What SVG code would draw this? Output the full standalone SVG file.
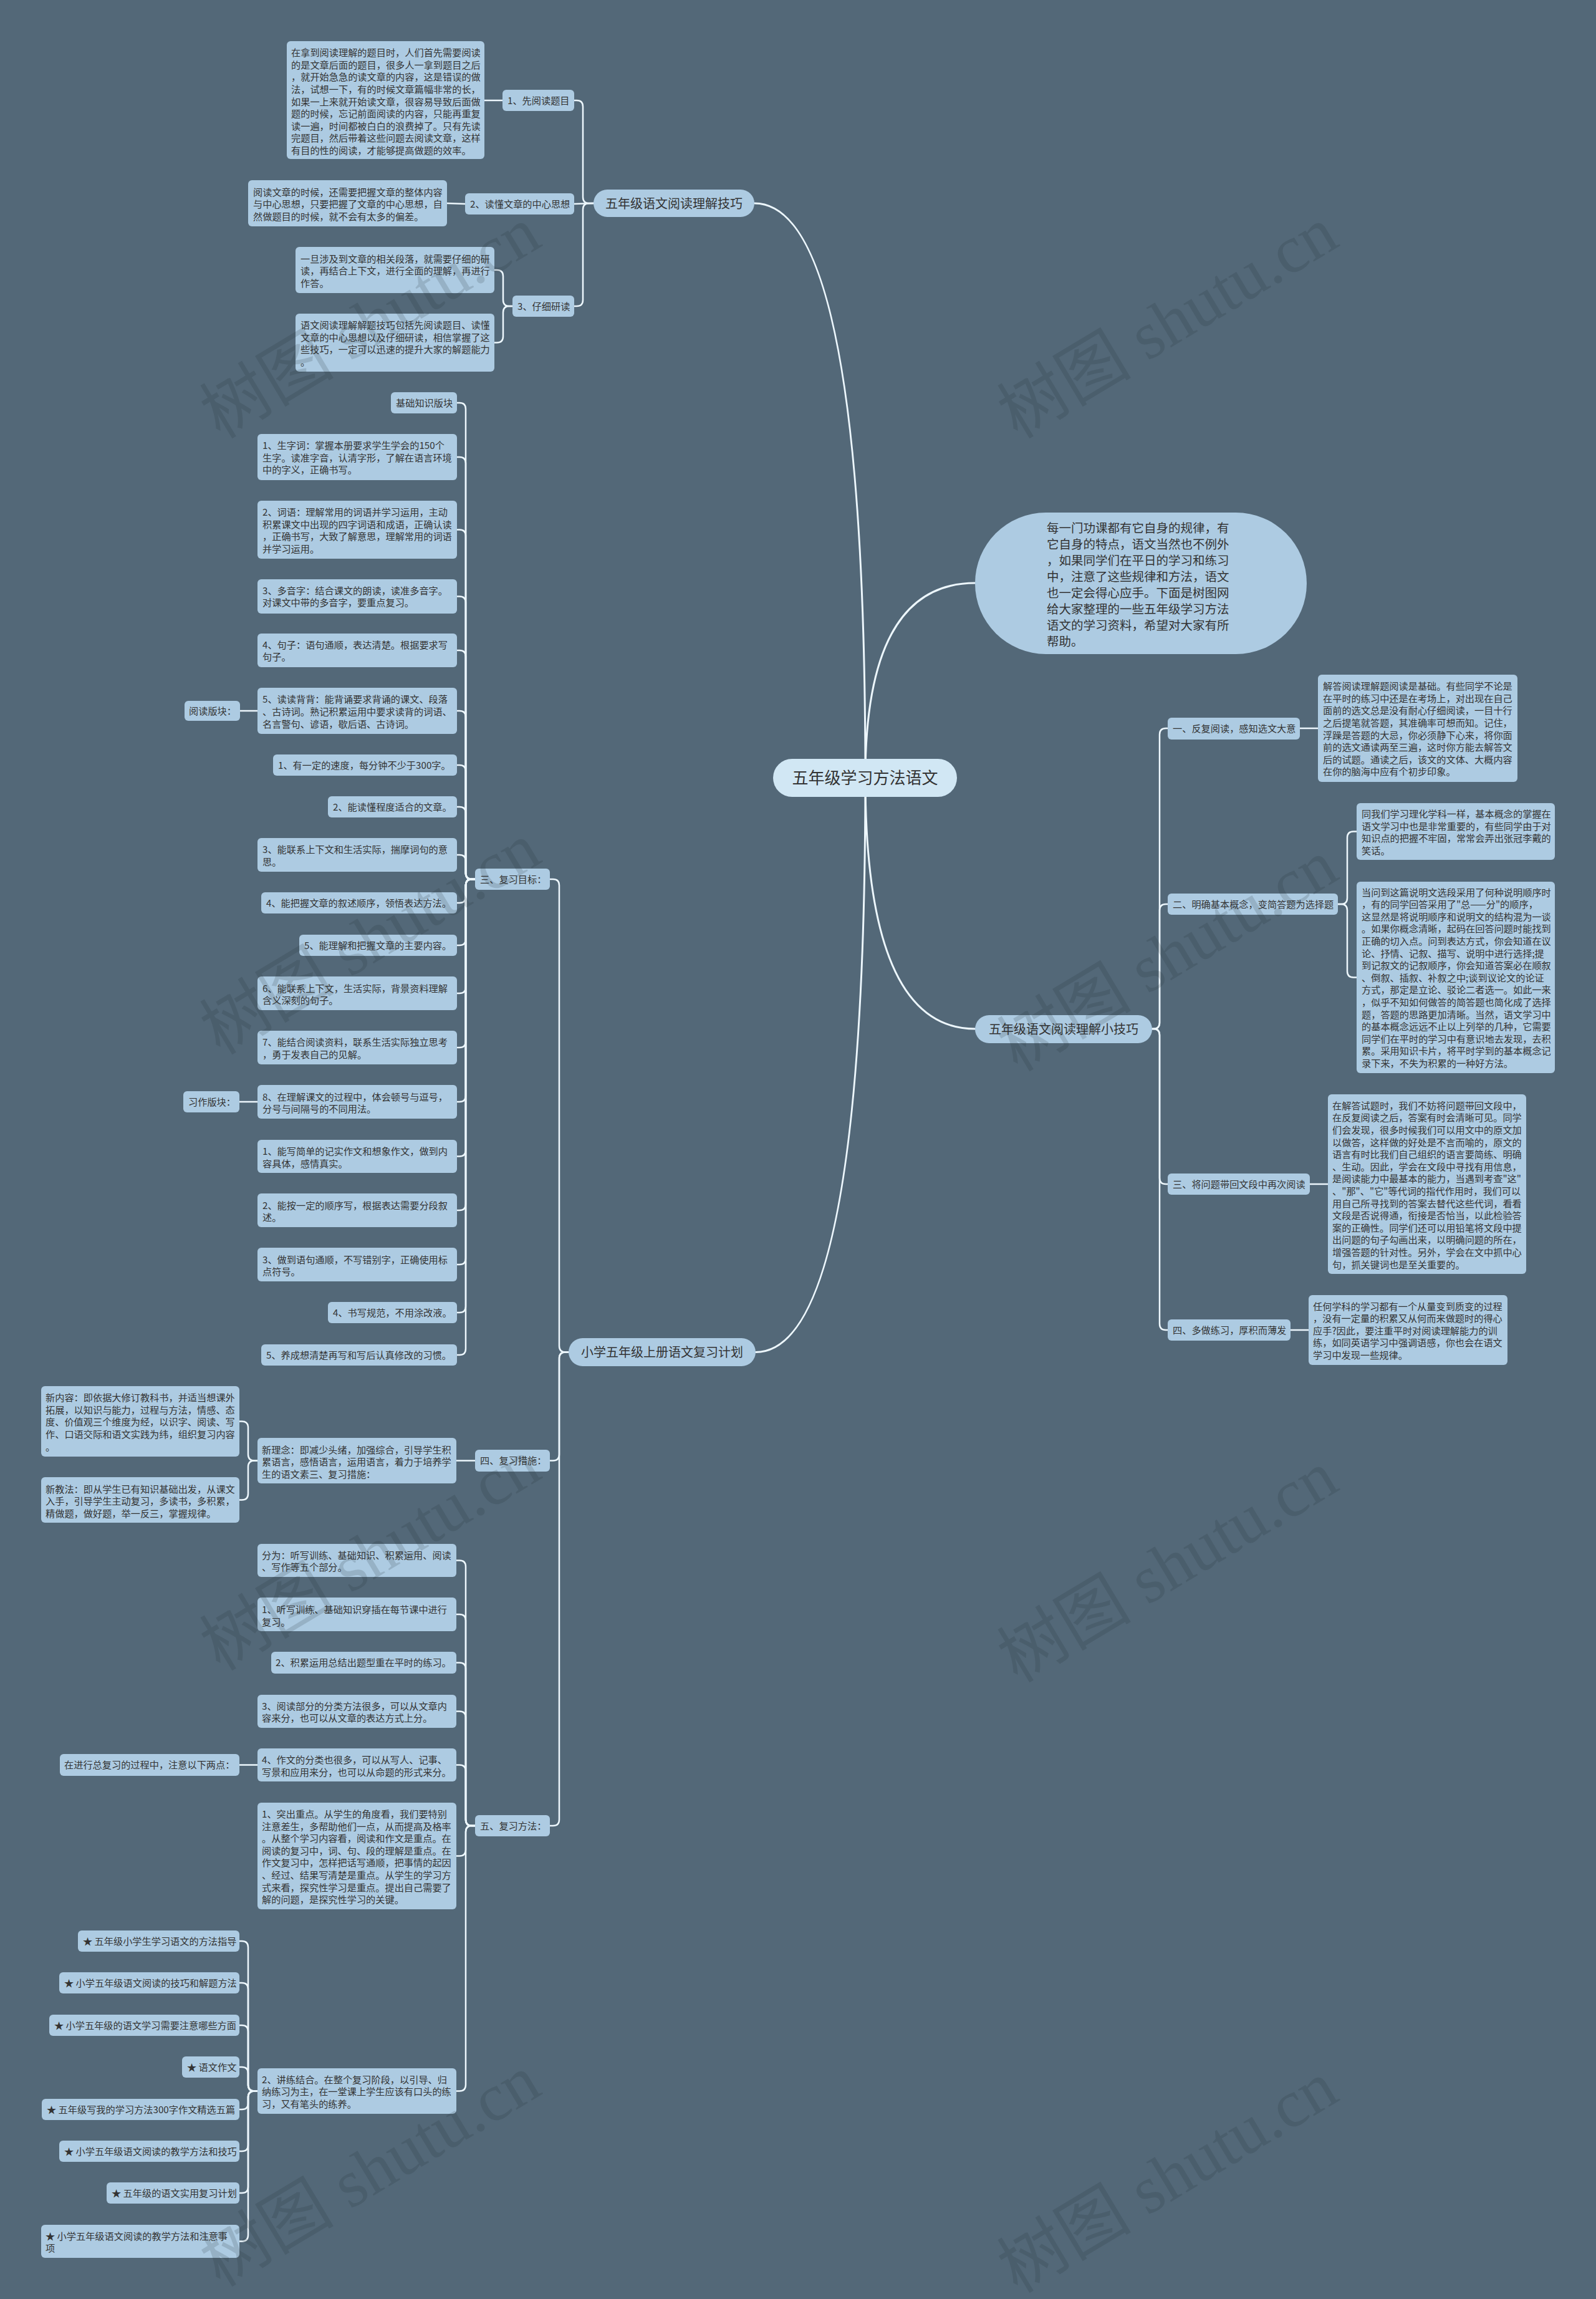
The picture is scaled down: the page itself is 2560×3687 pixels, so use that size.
<svg xmlns="http://www.w3.org/2000/svg" width="2560" height="3687" viewBox="0 0 2560 3687">
<style>
.n{fill:#adcbe2}
.c{fill:#d1e7f4}
.t{font-family:"Noto Sans CJK SC","Noto Sans",sans-serif;font-size:15.2px;fill:#333}
.tb{font-family:"Noto Sans CJK SC","Noto Sans",sans-serif;font-size:20px;fill:#333}
.ti{font-family:"Noto Sans CJK SC","Noto Sans",sans-serif;font-size:19.5px;fill:#333}
.tc{font-family:"Noto Sans CJK SC","Noto Sans",sans-serif;font-size:26px;fill:#333}
.l{fill:none;stroke:#edf7fd;stroke-width:2.5;stroke-linecap:round;stroke-linejoin:round}
.lm{stroke-width:3}
.wm{font-family:"Liberation Serif","Noto Sans CJK SC",serif;font-size:108px;fill:#1e2a33;fill-opacity:0.16}
</style>
<rect x="0" y="0" width="2560" height="3687" fill="#536878"/>
<g id="connectors">
<path class="l lm" d="M1210,326 Q1388,326 1388,1247"/>
<path class="l lm" d="M1388,1247 Q1388,935 1564,935"/>
<path class="l lm" d="M1388,1247 Q1388,1650 1564,1650"/>
<path class="l lm" d="M1212,2168.5 Q1388,2168.5 1388,1247"/>
<path class="l" d="M952,326 L945,326 Q935,326 935,316 L935,171 Q935,161 925,161 L921,161"/>
<path class="l" d="M952,326 L921,327"/>
<path class="l" d="M952,326 L945,326 Q935,326 935,336 L935,481 Q935,491 925,491 L921,491"/>
<path class="l" d="M777,161 L806,161"/>
<path class="l" d="M717,326 L746,327"/>
<path class="l" d="M822,491 L817,491 Q807,491 807,481 L807,443 Q807,433 797,433 L793,433"/>
<path class="l" d="M822,491 L817,491 Q807,491 807,501 L807,539.5 Q807,549.5 797,549.5 L793,549.5"/>
<path class="l" d="M1848,1650 L1850,1650 Q1860,1650 1860,1640 L1860,1178 Q1860,1168 1870,1168 L1873,1168"/>
<path class="l" d="M1848,1650 L1850,1650 Q1860,1650 1860,1640 L1860,1460 Q1860,1450 1870,1450 L1873,1450"/>
<path class="l" d="M1848,1650 L1850,1650 Q1860,1650 1860,1660 L1860,1889 Q1860,1899 1870,1899 L1873,1899"/>
<path class="l" d="M1848,1650 L1850,1650 Q1860,1650 1860,1660 L1860,2123 Q1860,2133 1870,2133 L1873,2133"/>
<path class="l" d="M2085,1168 L2114,1168"/>
<path class="l" d="M2101,1899 L2130,1899"/>
<path class="l" d="M2070,2133 L2099,2133"/>
<path class="l" d="M2146,1450 L2151,1450 Q2161,1450 2161,1440 L2161,1343.5 Q2161,1333.5 2171,1333.5 L2176,1333.5"/>
<path class="l" d="M2146,1450 L2151,1450 Q2161,1450 2161,1460 L2161,1557.5 Q2161,1567.5 2171,1567.5 L2176,1567.5"/>
<path class="l" d="M912,2168.5 L907,2168.5 Q897,2168.5 897,2158.5 L897,1420 Q897,1410 887,1410 L882,1410"/>
<path class="l" d="M912,2168.5 L907,2168.5 Q897,2168.5 897,2178.5 L897,2332.5 Q897,2342.5 887,2342.5 L882,2342.5"/>
<path class="l" d="M912,2168.5 L907,2168.5 Q897,2168.5 897,2178.5 L897,2918 Q897,2928 887,2928 L882,2928"/>
<path class="l" d="M762,1410 L757,1410 Q747,1410 747,1400 L747,656 Q747,646 737,646 L733,646"/>
<path class="l" d="M762,1410 L757,1410 Q747,1410 747,1400 L747,743 Q747,733 737,733 L733,733"/>
<path class="l" d="M762,1410 L757,1410 Q747,1410 747,1400 L747,859.5 Q747,849.5 737,849.5 L733,849.5"/>
<path class="l" d="M762,1410 L757,1410 Q747,1410 747,1400 L747,966.5 Q747,956.5 737,956.5 L733,956.5"/>
<path class="l" d="M762,1410 L757,1410 Q747,1410 747,1400 L747,1053 Q747,1043 737,1043 L733,1043"/>
<path class="l" d="M762,1410 L757,1410 Q747,1410 747,1400 L747,1150 Q747,1140 737,1140 L733,1140"/>
<path class="l" d="M762,1410 L757,1410 Q747,1410 747,1400 L747,1237 Q747,1227 737,1227 L733,1227"/>
<path class="l" d="M762,1410 L757,1410 Q747,1410 747,1400 L747,1304 Q747,1294 737,1294 L733,1294"/>
<path class="l" d="M762,1410 L757,1410 Q747,1410 747,1400 L747,1381 Q747,1371 737,1371 L733,1371"/>
<path class="l" d="M762,1410 L757,1410 Q747,1410 747,1420 L747,1438 Q747,1448 737,1448 L733,1448"/>
<path class="l" d="M762,1410 L757,1410 Q747,1410 747,1420 L747,1506 Q747,1516 737,1516 L733,1516"/>
<path class="l" d="M762,1410 L757,1410 Q747,1410 747,1420 L747,1583 Q747,1593 737,1593 L733,1593"/>
<path class="l" d="M762,1410 L757,1410 Q747,1410 747,1420 L747,1670 Q747,1680 737,1680 L733,1680"/>
<path class="l" d="M762,1410 L757,1410 Q747,1410 747,1420 L747,1757 Q747,1767 737,1767 L733,1767"/>
<path class="l" d="M762,1410 L757,1410 Q747,1410 747,1420 L747,1844.5 Q747,1854.5 737,1854.5 L733,1854.5"/>
<path class="l" d="M762,1410 L757,1410 Q747,1410 747,1420 L747,1931 Q747,1941 737,1941 L733,1941"/>
<path class="l" d="M762,1410 L757,1410 Q747,1410 747,1420 L747,2018 Q747,2028 737,2028 L733,2028"/>
<path class="l" d="M762,1410 L757,1410 Q747,1410 747,1420 L747,2095 Q747,2105 737,2105 L733,2105"/>
<path class="l" d="M762,1410 L757,1410 Q747,1410 747,1420 L747,2163 Q747,2173 737,2173 L733,2173"/>
<path class="l" d="M385,1140 L413,1140"/>
<path class="l" d="M384,1767 L413,1767"/>
<path class="l" d="M762,2342.5 L732,2342.5"/>
<path class="l" d="M413,2342.5 L408,2342.5 Q398,2342.5 398,2332.5 L398,2289.5 Q398,2279.5 388,2279.5 L384,2279.5"/>
<path class="l" d="M413,2342.5 L408,2342.5 Q398,2342.5 398,2352.5 L398,2395.5 Q398,2405.5 388,2405.5 L384,2405.5"/>
<path class="l" d="M762,2928 L757,2928 Q747,2928 747,2918 L747,2512.5 Q747,2502.5 737,2502.5 L732,2502.5"/>
<path class="l" d="M762,2928 L757,2928 Q747,2928 747,2918 L747,2599 Q747,2589 737,2589 L732,2589"/>
<path class="l" d="M762,2928 L757,2928 Q747,2928 747,2918 L747,2676.5 Q747,2666.5 737,2666.5 L732,2666.5"/>
<path class="l" d="M762,2928 L757,2928 Q747,2928 747,2918 L747,2754.5 Q747,2744.5 737,2744.5 L732,2744.5"/>
<path class="l" d="M762,2928 L757,2928 Q747,2928 747,2918 L747,2840.5 Q747,2830.5 737,2830.5 L732,2830.5"/>
<path class="l" d="M762,2928 L757,2928 Q747,2928 747,2938 L747,2966.5 Q747,2976.5 737,2976.5 L732,2976.5"/>
<path class="l" d="M762,2928 L757,2928 Q747,2928 747,2938 L747,3343.5 Q747,3353.5 737,3353.5 L732,3353.5"/>
<path class="l" d="M413,2830.5 L384,2830.5"/>
<path class="l" d="M413,3353.5 L408,3353.5 Q398,3353.5 398,3343.5 L398,3123 Q398,3113 388,3113 L384,3113"/>
<path class="l" d="M413,3353.5 L408,3353.5 Q398,3353.5 398,3343.5 L398,3190 Q398,3180 388,3180 L384,3180"/>
<path class="l" d="M413,3353.5 L408,3353.5 Q398,3353.5 398,3343.5 L398,3258 Q398,3248 388,3248 L384,3248"/>
<path class="l" d="M413,3353.5 L408,3353.5 Q398,3353.5 398,3343.5 L398,3325 Q398,3315 388,3315 L384,3315"/>
<path class="l" d="M413,3353.5 L408,3353.5 Q398,3353.5 398,3363.5 L398,3373 Q398,3383 388,3383 L384,3383"/>
<path class="l" d="M413,3353.5 L408,3353.5 Q398,3353.5 398,3363.5 L398,3440 Q398,3450 388,3450 L384,3450"/>
<path class="l" d="M413,3353.5 L408,3353.5 Q398,3353.5 398,3363.5 L398,3507 Q398,3517 388,3517 L384,3517"/>
<path class="l" d="M413,3353.5 L408,3353.5 Q398,3353.5 398,3363.5 L398,3584.5 Q398,3594.5 388,3594.5 L384,3594.5"/>
</g>

<g id="center"><rect class="c" x="1240" y="1217" width="295" height="61" rx="30.5"/><text class="tc" x="1387.5" y="1257.4" text-anchor="middle">五年级学习方法语文</text></g>

<g id="intro"><rect class="n" x="1564" y="822" width="532" height="227" rx="113.5"/>
<text class="ti"><tspan x="1679" y="854.3">每一门功课都有它自身的规律，有</tspan><tspan x="1679" y="880.3">它自身的特点，语文当然也不例外</tspan><tspan x="1679" y="906.3">，如果同学们在平日的学习和练习</tspan><tspan x="1679" y="932.3">中，注意了这些规律和方法，语文</tspan><tspan x="1679" y="958.3">也一定会得心应手。下面是树图网</tspan><tspan x="1679" y="984.3">给大家整理的一些五年级学习方法</tspan><tspan x="1679" y="1010.3">语文的学习资料，希望对大家有所</tspan><tspan x="1679" y="1036.3">帮助。</tspan></text></g>

<g id="b1"><rect class="n" x="952" y="304" width="258" height="44" rx="22"/><text class="tb" x="1081" y="333.6" text-anchor="middle">五年级语文阅读理解技巧</text></g>
<g id="b1-1"><rect class="n" x="806" y="144" width="115" height="34" rx="6"/><text class="t" x="814" y="166.5">1、先阅读题目</text></g>
<g id="b1-1a"><rect class="n" x="460" y="66" width="317" height="189" rx="6"/>
<text class="t"><tspan x="467" y="90.1">在拿到阅读理解的题目时，人们首先需要阅读</tspan><tspan x="467" y="109.7">的是文章后面的题目，很多人一拿到题目之后</tspan><tspan x="467" y="129.3">，就开始急急的读文章的内容，这是错误的做</tspan><tspan x="467" y="148.9">法，试想一下，有的时候文章篇幅非常的长，</tspan><tspan x="467" y="168.5">如果一上来就开始读文章，很容易导致后面做</tspan><tspan x="467" y="188.1">题的时候，忘记前面阅读的内容，只能再重复</tspan><tspan x="467" y="207.7">读一遍，时间都被白白的浪费掉了。只有先读</tspan><tspan x="467" y="227.3">完题目，然后带着这些问题去阅读文章，这样</tspan><tspan x="467" y="246.9">有目的性的阅读，才能够提高做题的效率。</tspan></text></g>
<g id="b1-2"><rect class="n" x="746" y="310" width="175" height="34" rx="6"/><text class="t" x="754" y="332.5">2、读懂文章的中心思想</text></g>
<g id="b1-2a"><rect class="n" x="398" y="289" width="319" height="74" rx="6"/>
<text class="t"><tspan x="406" y="313.7">阅读文章的时候，还需要把握文章的整体内容</tspan><tspan x="406" y="333.3">与中心思想，只要把握了文章的中心思想，自</tspan><tspan x="406" y="352.9">然做题目的时候，就不会有太多的偏差。</tspan></text></g>
<g id="b1-3"><rect class="n" x="822" y="474" width="99" height="34" rx="6"/><text class="t" x="830" y="496.5">3、仔细研读</text></g>
<g id="b1-3a"><rect class="n" x="474" y="396" width="319" height="74" rx="6"/>
<text class="t"><tspan x="482" y="420.5">一旦涉及到文章的相关段落，就需要仔细的研</tspan><tspan x="482" y="440.1">读，再结合上下文，进行全面的理解，再进行</tspan><tspan x="482" y="459.7">作答。</tspan></text></g>
<g id="b1-3b"><rect class="n" x="474" y="503" width="319" height="93" rx="6"/>
<text class="t"><tspan x="482" y="527">语文阅读理解解题技巧包括先阅读题目、读懂</tspan><tspan x="482" y="546.6">文章的中心思想以及仔细研读，相信掌握了这</tspan><tspan x="482" y="566.2">些技巧，一定可以迅速的提升大家的解题能力</tspan><tspan x="482" y="585.8">。</tspan></text></g>

<g id="b2"><rect class="n" x="1564" y="1628" width="284" height="45" rx="22.5"/><text class="tb" x="1706" y="1658" text-anchor="middle">五年级语文阅读理解小技巧</text></g>
<g id="b2-1"><rect class="n" x="1873" y="1151" width="212" height="35" rx="6"/><text class="t" x="1881" y="1174">一、反复阅读，感知选文大意</text></g>
<g id="b2-1a"><rect class="n" x="2114" y="1082" width="320" height="172" rx="6"/>
<text class="t"><tspan x="2122" y="1106.1">解答阅读理解题阅读是基础。有些同学不论是</tspan><tspan x="2122" y="1125.7">在平时的练习中还是在考场上，对出现在自己</tspan><tspan x="2122" y="1145.3">面前的选文总是没有耐心仔细阅读，一目十行</tspan><tspan x="2122" y="1164.9">之后提笔就答题，其准确率可想而知。记住，</tspan><tspan x="2122" y="1184.5">浮躁是答题的大忌，你必须静下心来，将你面</tspan><tspan x="2122" y="1204.1">前的选文通读两至三遍，这时你方能去解答文</tspan><tspan x="2122" y="1223.7">后的试题。通读之后，该文的文体、大概内容</tspan><tspan x="2122" y="1243.3">在你的脑海中应有个初步印象。</tspan></text></g>
<g id="b2-2"><rect class="n" x="1873" y="1433" width="273" height="34" rx="6"/><text class="t" x="1881" y="1455.5">二、明确基本概念，变简答题为选择题</text></g>
<g id="b2-2a"><rect class="n" x="2176" y="1288" width="318" height="91" rx="6"/>
<text class="t"><tspan x="2184" y="1311">同我们学习理化学科一样，基本概念的掌握在</tspan><tspan x="2184" y="1330.6">语文学习中也是非常重要的，有些同学由于对</tspan><tspan x="2184" y="1350.2">知识点的把握不牢固，常常会弄出张冠李戴的</tspan><tspan x="2184" y="1369.8">笑话。</tspan></text></g>
<g id="b2-2b"><rect class="n" x="2176" y="1414" width="318" height="307" rx="6"/>
<text class="t"><tspan x="2184" y="1436.5">当问到这篇说明文选段采用了何种说明顺序时</tspan><tspan x="2184" y="1456.1">，有的同学回答采用了"总——分"的顺序，</tspan><tspan x="2184" y="1475.7">这显然是将说明顺序和说明文的结构混为一谈</tspan><tspan x="2184" y="1495.3">。如果你概念清晰，起码在回答问题时能找到</tspan><tspan x="2184" y="1514.9">正确的切入点。问到表达方式，你会知道在议</tspan><tspan x="2184" y="1534.5">论、抒情、记叙、描写、说明中进行选择;提</tspan><tspan x="2184" y="1554.1">到记叙文的记叙顺序，你会知道答案必在顺叙</tspan><tspan x="2184" y="1573.7">、倒叙、插叙、补叙之中;谈到议论文的论证</tspan><tspan x="2184" y="1593.3">方式，那定是立论、驳论二者选一。如此一来</tspan><tspan x="2184" y="1612.9">，似乎不知如何做答的简答题也简化成了选择</tspan><tspan x="2184" y="1632.5">题，答题的思路更加清晰。当然，语文学习中</tspan><tspan x="2184" y="1652.1">的基本概念远远不止以上列举的几种，它需要</tspan><tspan x="2184" y="1671.7">同学们在平时的学习中有意识地去发现，去积</tspan><tspan x="2184" y="1691.3">累。采用知识卡片，将平时学到的基本概念记</tspan><tspan x="2184" y="1710.9">录下来，不失为积累的一种好方法。</tspan></text></g>
<g id="b2-3"><rect class="n" x="1873" y="1882" width="228" height="34" rx="6"/><text class="t" x="1881" y="1904.5">三、将问题带回文段中再次阅读</text></g>
<g id="b2-3a"><rect class="n" x="2130" y="1755" width="318" height="288" rx="6"/>
<text class="t"><tspan x="2137" y="1778.8">在解答试题时，我们不妨将问题带回文段中，</tspan><tspan x="2137" y="1798.4">在反复阅读之后，答案有时会清晰可见。同学</tspan><tspan x="2137" y="1818">们会发现，很多时候我们可以用文中的原文加</tspan><tspan x="2137" y="1837.6">以做答，这样做的好处是不言而喻的，原文的</tspan><tspan x="2137" y="1857.2">语言有时比我们自己组织的语言要简练、明确</tspan><tspan x="2137" y="1876.8">、生动。因此，学会在文段中寻找有用信息，</tspan><tspan x="2137" y="1896.4">是阅读能力中最基本的能力，当遇到考查"这"</tspan><tspan x="2137" y="1916">、"那"、"它"等代词的指代作用时，我们可以</tspan><tspan x="2137" y="1935.6">用自己所寻找到的答案去替代这些代词，看看</tspan><tspan x="2137" y="1955.2">文段是否说得通，衔接是否恰当，以此检验答</tspan><tspan x="2137" y="1974.8">案的正确性。同学们还可以用铅笔将文段中提</tspan><tspan x="2137" y="1994.4">出问题的句子勾画出来，以明确问题的所在，</tspan><tspan x="2137" y="2014">增强答题的针对性。另外，学会在文中抓中心</tspan><tspan x="2137" y="2033.6">句，抓关键词也是至关重要的。</tspan></text></g>
<g id="b2-4"><rect class="n" x="1873" y="2116" width="197" height="34" rx="6"/><text class="t" x="1881" y="2138.5">四、多做练习，厚积而薄发</text></g>
<g id="b2-4a"><rect class="n" x="2099" y="2077" width="319" height="112" rx="6"/>
<text class="t"><tspan x="2106" y="2100.5">任何学科的学习都有一个从量变到质变的过程</tspan><tspan x="2106" y="2120.1">，没有一定量的积累又从何而来做题时的得心</tspan><tspan x="2106" y="2139.7">应手?因此，要注重平时对阅读理解能力的训</tspan><tspan x="2106" y="2159.3">练，如同英语学习中强调语感，你也会在语文</tspan><tspan x="2106" y="2178.9">学习中发现一些规律。</tspan></text></g>

<g id="b3"><rect class="n" x="912" y="2146" width="300" height="45" rx="22.5"/><text class="tb" x="1062" y="2176" text-anchor="middle">小学五年级上册语文复习计划</text></g>
<g id="b3-3"><rect class="n" x="762" y="1393" width="120" height="34" rx="6"/><text class="t" x="770" y="1415.5">三、复习目标：</text></g>
<g id="b3-3a"><rect class="n" x="627" y="629" width="106" height="34" rx="6"/><text class="t" x="635" y="651.5">基础知识版块</text></g>
<g id="b3-3b"><rect class="n" x="413" y="696" width="320" height="74" rx="6"/>
<text class="t"><tspan x="421" y="720.2">1、生字词：掌握本册要求学生学会的150个</tspan><tspan x="421" y="739.8">生字。读准字音，认清字形，了解在语言环境</tspan><tspan x="421" y="759.4">中的字义，正确书写。</tspan></text></g>
<g id="b3-3c"><rect class="n" x="413" y="803" width="320" height="93" rx="6"/>
<text class="t"><tspan x="421" y="827">2、词语：理解常用的词语并学习运用，主动</tspan><tspan x="421" y="846.6">积累课文中出现的四字词语和成语，正确认读</tspan><tspan x="421" y="866.2">，正确书写，大致了解意思，理解常用的词语</tspan><tspan x="421" y="885.8">并学习运用。</tspan></text></g>
<g id="b3-3d"><rect class="n" x="413" y="929" width="320" height="55" rx="6"/>
<text class="t"><tspan x="421" y="952.5">3、多音字：结合课文的朗读，读准多音字。</tspan><tspan x="421" y="972.1">对课文中带的多音字，要重点复习。</tspan></text></g>
<g id="b3-3e"><rect class="n" x="413" y="1016" width="320" height="54" rx="6"/>
<text class="t"><tspan x="421" y="1039.5">4、句子：语句通顺，表达清楚。根据要求写</tspan><tspan x="421" y="1059.1">句子。</tspan></text></g>
<g id="b3-3f"><rect class="n" x="413" y="1103" width="320" height="74" rx="6"/>
<text class="t"><tspan x="421" y="1127.4">5、读读背背：能背诵要求背诵的课文、段落</tspan><tspan x="421" y="1147">、古诗词。熟记积累运用中要求读背的词语、</tspan><tspan x="421" y="1166.6">名言警句、谚语，歇后语、古诗词。</tspan></text></g>
<g id="b3-3f1"><rect class="n" x="296" y="1124" width="89" height="32" rx="6"/><text class="t" x="303" y="1145.5">阅读版块：</text></g>
<g id="b3-3g"><rect class="n" x="438" y="1210" width="295" height="34" rx="6"/><text class="t" x="446" y="1232.5">1、有一定的速度，每分钟不少于300字。</text></g>
<g id="b3-3h"><rect class="n" x="526" y="1277" width="207" height="34" rx="6"/><text class="t" x="534" y="1299.5">2、能读懂程度适合的文章。</text></g>
<g id="b3-3i"><rect class="n" x="413" y="1344" width="320" height="54" rx="6"/>
<text class="t"><tspan x="421" y="1368.4">3、能联系上下文和生活实际，揣摩词句的意</tspan><tspan x="421" y="1388">思。</tspan></text></g>
<g id="b3-3j"><rect class="n" x="419" y="1431" width="314" height="34" rx="6"/><text class="t" x="427" y="1453.5">4、能把握文章的叙述顺序，领悟表达方法。</text></g>
<g id="b3-3k"><rect class="n" x="480" y="1499" width="253" height="34" rx="6"/><text class="t" x="488" y="1521.5">5、能理解和把握文章的主要内容。</text></g>
<g id="b3-3l"><rect class="n" x="413" y="1566" width="320" height="54" rx="6"/>
<text class="t"><tspan x="421" y="1590.5">6、能联系上下文，生活实际，背景资料理解</tspan><tspan x="421" y="1610.1">含义深刻的句子。</tspan></text></g>
<g id="b3-3m"><rect class="n" x="413" y="1653" width="320" height="54" rx="6"/>
<text class="t"><tspan x="421" y="1677.3">7、能结合阅读资料，联系生活实际独立思考</tspan><tspan x="421" y="1696.9">，勇于发表自己的见解。</tspan></text></g>
<g id="b3-3n"><rect class="n" x="413" y="1740" width="320" height="54" rx="6"/>
<text class="t"><tspan x="421" y="1764.5">8、在理解课文的过程中，体会顿号与逗号，</tspan><tspan x="421" y="1784.1">分号与间隔号的不同用法。</tspan></text></g>
<g id="b3-3n1"><rect class="n" x="294" y="1750" width="90" height="34" rx="6"/><text class="t" x="302" y="1772.5">习作版块：</text></g>
<g id="b3-3o"><rect class="n" x="413" y="1828" width="320" height="53" rx="6"/>
<text class="t"><tspan x="421" y="1852.2">1、能写简单的记实作文和想象作文，做到内</tspan><tspan x="421" y="1871.8">容具体，感情真实。</tspan></text></g>
<g id="b3-3p"><rect class="n" x="413" y="1914" width="320" height="54" rx="6"/>
<text class="t"><tspan x="421" y="1938.8">2、能按一定的顺序写，根据表达需要分段叙</tspan><tspan x="421" y="1958.4">述。</tspan></text></g>
<g id="b3-3q"><rect class="n" x="413" y="2001" width="320" height="54" rx="6"/>
<text class="t"><tspan x="421" y="2025.5">3、做到语句通顺，不写错别字，正确使用标</tspan><tspan x="421" y="2045.1">点符号。</tspan></text></g>
<g id="b3-3r"><rect class="n" x="526" y="2088" width="207" height="34" rx="6"/><text class="t" x="534" y="2110.5">4、书写规范，不用涂改液。</text></g>
<g id="b3-3s"><rect class="n" x="419" y="2156" width="314" height="34" rx="6"/><text class="t" x="427" y="2178.5">5、养成想清楚再写和写后认真修改的习惯。</text></g>

<g id="b3-4"><rect class="n" x="762" y="2325" width="120" height="35" rx="6"/><text class="t" x="770" y="2348">四、复习措施：</text></g>
<g id="b3-4a"><rect class="n" x="413" y="2306" width="319" height="73" rx="6"/>
<text class="t"><tspan x="420" y="2330.5">新理念：即减少头绪，加强综合，引导学生积</tspan><tspan x="420" y="2350.1">累语言，感悟语言，运用语言，着力于培养学</tspan><tspan x="420" y="2369.7">生的语文素三、复习措施：</tspan></text></g>
<g id="b3-4b"><rect class="n" x="66" y="2223" width="318" height="113" rx="6"/>
<text class="t"><tspan x="73" y="2247.2">新内容：即依据大修订教科书，并适当想课外</tspan><tspan x="73" y="2266.8">拓展，以知识与能力，过程与方法，情感、态</tspan><tspan x="73" y="2286.4">度、价值观三个维度为经，以识字、阅读、写</tspan><tspan x="73" y="2306">作、口语交际和语文实践为纬，组织复习内容</tspan><tspan x="73" y="2325.6">。</tspan></text></g>
<g id="b3-4c"><rect class="n" x="66" y="2369" width="318" height="73" rx="6"/>
<text class="t"><tspan x="73" y="2393.8">新教法：即从学生已有知识基础出发，从课文</tspan><tspan x="73" y="2413.4">入手，引导学生主动复习，多读书，多积累，</tspan><tspan x="73" y="2433">精做题，做好题，举一反三，掌握规律。</tspan></text></g>

<g id="b3-5"><rect class="n" x="762" y="2911" width="120" height="34" rx="6"/><text class="t" x="770" y="2933.5">五、复习方法：</text></g>
<g id="b3-5a"><rect class="n" x="413" y="2476" width="319" height="53" rx="6"/>
<text class="t"><tspan x="420" y="2499.8">分为：听写训练、基础知识、积累运用、阅读</tspan><tspan x="420" y="2519.4">、写作等五个部分。</tspan></text></g>
<g id="b3-5b"><rect class="n" x="413" y="2562" width="319" height="54" rx="6"/>
<text class="t"><tspan x="420" y="2587.1">1、听写训练、基础知识穿插在每节课中进行</tspan><tspan x="420" y="2606.7">复习。</tspan></text></g>
<g id="b3-5c"><rect class="n" x="435" y="2649" width="297" height="35" rx="6"/><text class="t" x="442" y="2672">2、积累运用总结出题型重在平时的练习。</text></g>
<g id="b3-5d"><rect class="n" x="413" y="2718" width="319" height="53" rx="6"/>
<text class="t"><tspan x="420" y="2741.5">3、阅读部分的分类方法很多，可以从文章内</tspan><tspan x="420" y="2761.1">容来分，也可以从文章的表达方式上分。</tspan></text></g>
<g id="b3-5e"><rect class="n" x="413" y="2804" width="319" height="53" rx="6"/>
<text class="t"><tspan x="420" y="2828.4">4、作文的分类也很多，可以从写人、记事、</tspan><tspan x="420" y="2848">写景和应用来分，也可以从命题的形式来分。</tspan></text></g>
<g id="b3-5e1"><rect class="n" x="96" y="2813" width="288" height="35" rx="6"/><text class="t" x="103" y="2836">在进行总复习的过程中，注意以下两点：</text></g>
<g id="b3-5f"><rect class="n" x="413" y="2891" width="319" height="171" rx="6"/>
<text class="t"><tspan x="420" y="2914.9">1、突出重点。从学生的角度看，我们要特别</tspan><tspan x="420" y="2934.5">注意差生，多帮助他们一点，从而提高及格率</tspan><tspan x="420" y="2954.1">。从整个学习内容看，阅读和作文是重点。在</tspan><tspan x="420" y="2973.7">阅读的复习中，词、句、段的理解是重点。在</tspan><tspan x="420" y="2993.3">作文复习中，怎样把话写通顺，把事情的起因</tspan><tspan x="420" y="3012.9">、经过、结果写清楚是重点。从学生的学习方</tspan><tspan x="420" y="3032.5">式来看，探究性学习是重点。提出自己需要了</tspan><tspan x="420" y="3052.1">解的问题，是探究性学习的关键。</tspan></text></g>
<g id="b3-5g"><rect class="n" x="413" y="3317" width="319" height="73" rx="6"/>
<text class="t"><tspan x="420" y="3340.7">2、讲练结合。在整个复习阶段，以引导、归</tspan><tspan x="420" y="3360.3">纳练习为主，在一堂课上学生应该有口头的练</tspan><tspan x="420" y="3379.9">习，又有笔头的练养。</tspan></text></g>
<g id="s1"><rect class="n" x="125" y="3096" width="259" height="34" rx="6"/><text class="t" x="133" y="3118.5">★ 五年级小学生学习语文的方法指导</text></g>
<g id="s2"><rect class="n" x="95" y="3163" width="289" height="34" rx="6"/><text class="t" x="103" y="3185.5">★ 小学五年级语文阅读的技巧和解题方法</text></g>
<g id="s3"><rect class="n" x="79" y="3231" width="305" height="34" rx="6"/><text class="t" x="87" y="3253.5">★ 小学五年级的语文学习需要注意哪些方面</text></g>
<g id="s4"><rect class="n" x="292" y="3298" width="92" height="34" rx="6"/><text class="t" x="300" y="3320.5">★ 语文作文</text></g>
<g id="s5"><rect class="n" x="67" y="3366" width="317" height="34" rx="6"/><text class="t" x="75" y="3388.5">★ 五年级写我的学习方法300字作文精选五篇</text></g>
<g id="s6"><rect class="n" x="95" y="3433" width="289" height="34" rx="6"/><text class="t" x="103" y="3455.5">★ 小学五年级语文阅读的教学方法和技巧</text></g>
<g id="s7"><rect class="n" x="171" y="3500" width="213" height="34" rx="6"/><text class="t" x="179" y="3522.5">★ 五年级的语文实用复习计划</text></g>
<g id="s8"><rect class="n" x="66" y="3568" width="318" height="53" rx="6"/>
<text class="t"><tspan x="73" y="3591.5">★ 小学五年级语文阅读的教学方法和注意事</tspan><tspan x="73" y="3611.1">项</tspan></text></g>

<g id="watermarks">
<text class="wm" transform="translate(353,705) rotate(-31)">树图 shutu.cn</text>
<text class="wm" transform="translate(1632,705) rotate(-31)">树图 shutu.cn</text>
<text class="wm" transform="translate(353,1693) rotate(-31)">树图 shutu.cn</text>
<text class="wm" transform="translate(1632,1720) rotate(-31)">树图 shutu.cn</text>
<text class="wm" transform="translate(353,2681) rotate(-31)">树图 shutu.cn</text>
<text class="wm" transform="translate(1632,2700) rotate(-31)">树图 shutu.cn</text>
<text class="wm" transform="translate(353,3669) rotate(-31)">树图 shutu.cn</text>
<text class="wm" transform="translate(1632,3679) rotate(-31)">树图 shutu.cn</text>
</g>
</svg>
